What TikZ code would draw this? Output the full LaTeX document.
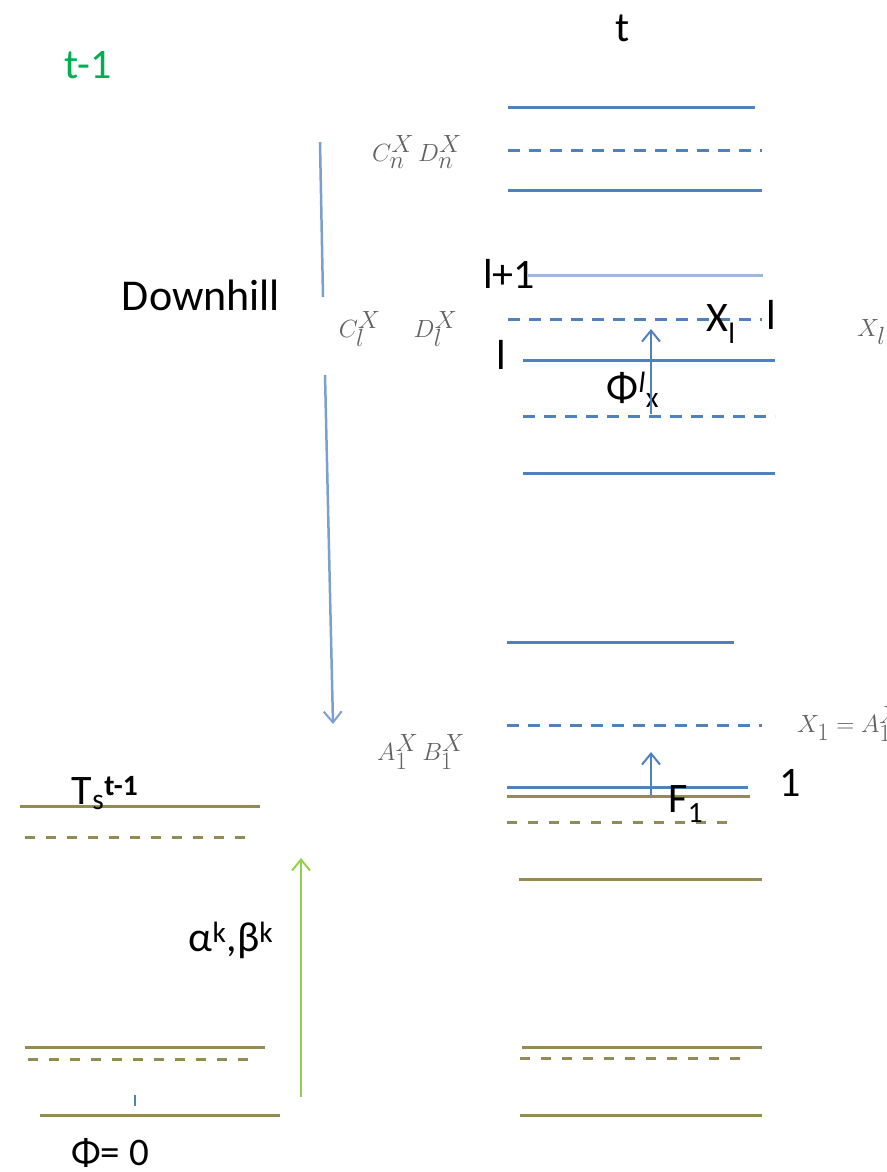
\documentclass[tikz,border=0pt]{standalone}
\usepackage{fontspec}
\setmainfont{Carlito}
\usetikzlibrary{arrows.meta}
\definecolor{lvblue}{RGB}{79,129,189}
\definecolor{lvolive}{RGB}{148,138,84}
\definecolor{upgreen}{RGB}{146,208,80}
\definecolor{tgreen}{RGB}{0,176,80}

\begin{document}
\begin{tikzpicture}[
  x=1pt,y=-1pt,
  >={Straight Barb[length=11pt,width=18pt,line width=2pt]},
  every node/.style={inner sep=0pt,font=\fontsize{42}{50}\selectfont},
  mth/.style={text=black!62,font=\fontsize{33}{40}\selectfont},
  blv/.style={draw=lvblue,line width=3pt},
  blvd/.style={blv,dash pattern=on 12pt off 9pt},
  olv/.style={draw=lvolive,line width=3pt},
  olvd/.style={olv,dash pattern=on 10pt off 11pt},
  up/.style={->,draw=lvblue,line width=2.5pt}
]
\useasboundingbox (0,0) rectangle (886,1172);

% headers
\node[text=tgreen] (tprev) at (88,65) {t-1};
\node (tcur) at (623,28) {t};

% levels at t
\draw[blv]  (508,107) -- (755,107);
\draw[blvd] (508,150) -- (762,150);
\draw[blv]  (508,190) -- (762,190);
\draw[blv,draw=lvblue!55] (528,275) -- (763,275);
\draw[blvd] (508,319) -- (762,319);
\draw[blv]  (523,360) -- (775,360);
\draw[blvd] (523,416) -- (775,416);
\draw[blv]  (523,473) -- (775,473);
\draw[blv]  (507,642) -- (734,642);
\draw[blvd] (507,725) -- (762,725);
\draw[blv]  (507,787) -- (748,787);
\draw[olv]  (507,796) -- (750,796);
\draw[olvd] (507,822) -- (737,822);
\draw[olv]  (519,879) -- (762,879);
\draw[olv]  (522,1047) -- (762,1047);
\draw[olvd] (520,1058) -- (745,1058);
\draw[olv]  (520,1115) -- (762,1115);

% levels at t-1
\draw[olv]  (20,806) -- (260,806);
\draw[olvd] (25,837) -- (255,837);
\draw[olv]  (25,1047) -- (265,1047);
\draw[olvd] (28,1059) -- (250,1059);
\draw[olv]  (40,1115) -- (280,1115);
\draw[draw=lvblue,line width=1.5pt] (135,1095) -- (135,1106);

% labels
\node[mth] (cn) at (417,152) {$C_n^X\,D_n^X$};
\node[font=\fontsize{44}{52}\selectfont] (down) at (201,295) {Downhill};
\node (lp1) at (509,274) {l+1};
\node[mth] (cl) at (398,329) {$C_l^X\quad D_l^X$};
\node (xl) at (721,324) {X\textsubscript{l}};
\node (lr) at (771,315) {l};
\node (ll) at (501,355) {l};
\node (phil) at (633,390) {Φ\textsuperscript{\itshape l}\textsubscript{x}};
\node[mth] (ab) at (421,752) {$A_1^X\,B_1^X$};
\node[mth,anchor=west] (x1) at (797,724) {$X_1=A_1^X$};
\node[mth,anchor=west] (xlr) at (857,328) {$X_l=C_l^X$};
\node (one) at (790,783) {1};
\node (f1) at (686,804) {F\textsubscript{1}};
\node (ts) at (105,793) {T\textsubscript{s}\textsuperscript{\bfseries t-1}};
\node (ab2) at (231,940) {α\textsuperscript{k},β\textsuperscript{k}};
\node[font=\fontsize{39}{46}\selectfont] (phi0) at (110,1153) {Φ= 0};

% arrows
\coordinate (dwA) at (320,142);
\coordinate (dwB) at (323,297);
\coordinate (dwC) at (325,375);
\coordinate (dwD) at (333,724);
\draw[draw=lvblue!75,line width=2.5pt] (dwA) -- (dwB);
\draw[up,draw=lvblue!75] (dwC) -- (dwD);
\coordinate (phS) at (651,414);
\coordinate (phE) at (651,329);
\draw[up] (phS) -- (phE);
\coordinate (fS) at (651,795);
\coordinate (fE) at (651,752);
\draw[up] (fS) -- (fE);
\coordinate (gS) at (301,1097);
\coordinate (gE) at (301,858);
\draw[up,draw=upgreen] (gS) -- (gE);
\end{tikzpicture}
\end{document}
